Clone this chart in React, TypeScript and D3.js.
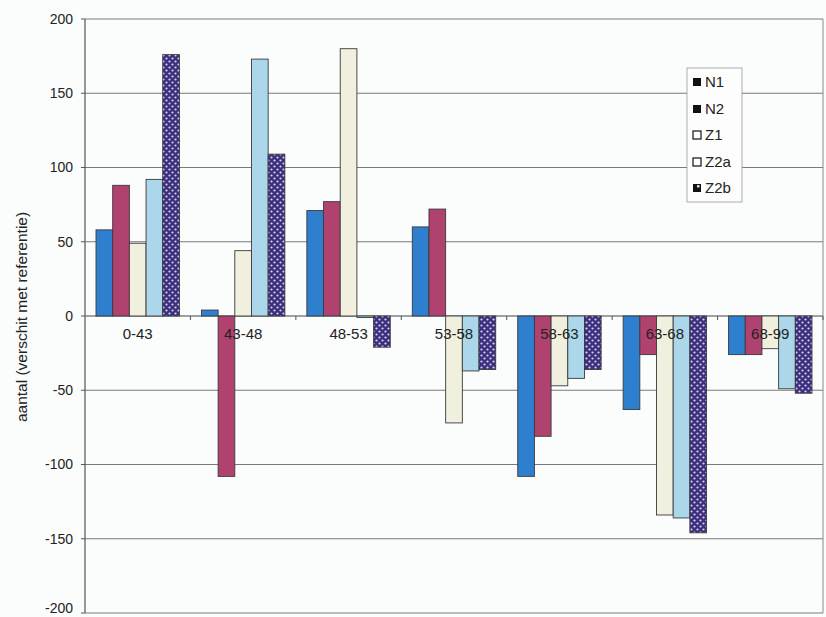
import React from "react";
import * as d3 from "d3";

const categories = ["0-43", "43-48", "48-53", "53-58", "58-63", "63-68", "68-99"];
const seriesNames = ["N1", "N2", "Z1", "Z2a", "Z2b"];
const n1 = [58, 4, 71, 60, -108, -63, -26];
const n2 = [88, -108, 77, 72, -81, -26, -26];
const z1 = [49, 44, 180, -72, -47, -134, -22];
const z2a = [92, 173, -1, -37, -42, -136, -49];
const z2b = [176, 109, -21, -36, -36, -146, -52];
const yTicks = [200, 150, 100, 50, 0, -50, -100, -150, -200];

const seriesValues = [n1, n2, z1, z2a, z2b];
const fills = ["#2f7fcf", "#b0426f", "#f1efdd", "#acd7ea", "url(#dotsZ2b)"];

const W = 826;
const H = 617;
const left = 85;
const right = 823;
const top = 19;
const bottom = 613;
const font = "'Liberation Sans', Arial, sans-serif";

export default function App() {
  const x = d3.scaleBand<string>().domain(categories).range([left, right]).padding(0);
  const xi = d3
    .scaleBand<string>()
    .domain(seriesNames)
    .range([0, x.bandwidth()])
    .paddingInner(0)
    .paddingOuter(0.66);
  const y = d3.scaleLinear().domain([-200, 200]).range([bottom, top]);

  const bars: JSX.Element[] = [];
  seriesValues.forEach((vals, si) => {
    vals.forEach((v, ci) => {
      const bx = (x(categories[ci]) as number) + (xi(seriesNames[si]) as number);
      const y0 = y(0);
      const y1 = y(v);
      bars.push(
        <rect
          key={`${si}-${ci}`}
          x={bx}
          y={Math.min(y0, y1)}
          width={xi.bandwidth()}
          height={Math.max(1, Math.abs(y1 - y0))}
          fill={fills[si]}
          stroke="#3a3a3a"
          strokeWidth={0.9}
        />
      );
    });
  });

  const legendY = [82, 109, 135, 162, 188];

  return (
    <svg
      width={W}
      height={H}
      style={{ position: "absolute", left: 0, top: 0, background: "#fbfcfc" }}
    >
      <defs>
        <pattern id="dotsZ2b" width="6" height="6" patternUnits="userSpaceOnUse">
          <rect width="6" height="6" fill="#3d2f7e" />
          <circle cx="1.5" cy="1.5" r="1.1" fill="#d9d2f2" />
          <circle cx="4.5" cy="4.5" r="1.1" fill="#c9d8f0" />
        </pattern>
      </defs>

      {/* horizontal gridlines */}
      {yTicks.map((t) => (
        <line
          key={t}
          x1={left}
          x2={right}
          y1={y(t)}
          y2={y(t)}
          stroke={t === 0 ? "#444" : "#7a7a7a"}
          strokeWidth={t === 0 ? 1.2 : 1}
        />
      ))}

      {/* plot frame */}
      <line x1={left} x2={left} y1={top} y2={bottom} stroke="#555" strokeWidth={1.2} />
      <line x1={right} x2={right} y1={top} y2={bottom} stroke="#888" strokeWidth={1} />

      {/* y tick marks and labels */}
      {yTicks.map((t) => (
        <g key={`yt${t}`}>
          <line x1={left - 4} x2={left} y1={y(t)} y2={y(t)} stroke="#555" />
          <text
            x={73}
            y={Math.min(y(t), 608)}
            dy="0.35em"
            textAnchor="end"
            fontFamily={font}
            fontSize={14}
            fill="#222"
          >
            {t}
          </text>
        </g>
      ))}

      {/* category tick marks on the zero line */}
      {categories.map((c) => (
        <line
          key={`xt${c}`}
          x1={(x(c) as number) + x.bandwidth()}
          x2={(x(c) as number) + x.bandwidth()}
          y1={y(0)}
          y2={y(0) + 4}
          stroke="#555"
        />
      ))}

      {bars}

      {/* category labels */}
      {categories.map((c) => (
        <text
          key={`xl${c}`}
          x={(x(c) as number) + x.bandwidth() / 2}
          y={y(0) + 23}
          textAnchor="middle"
          fontFamily={font}
          fontSize={15}
          fill="#222"
        >
          {c}
        </text>
      ))}

      {/* y axis title */}
      <text
        transform={`translate(22, 317) rotate(-90)`}
        dy="0.35em"
        textAnchor="middle"
        fontFamily={font}
        fontSize={15.5}
        fill="#222"
      >
        aantal (verschit met referentie)
      </text>

      {/* legend */}
      <rect x={687} y={68} width={55} height={134} fill="#fdfdfd" stroke="#999" strokeWidth={0.8} />
      {seriesNames.map((s, i) => (
        <g key={`lg${s}`}>
          {i === 2 || i === 3 ? (
            <rect x={693} y={legendY[i] - 4} width={8} height={8} fill="#fff" stroke="#111" strokeWidth={1.2} />
          ) : (
            <rect x={693} y={legendY[i] - 4} width={8} height={8} fill="#111" />
          )}
          {i === 4 && <rect x={697} y={legendY[i] - 3} width={2.5} height={2.5} fill="#ddd" />}
          <text
            x={705}
            y={legendY[i]}
            dy="0.35em"
            fontFamily={font}
            fontSize={15}
            fill="#222"
          >
            {s}
          </text>
        </g>
      ))}
    </svg>
  );
}
